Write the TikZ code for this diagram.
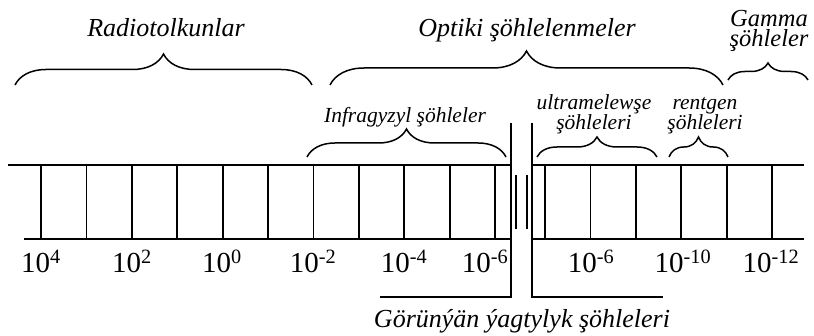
\documentclass[tikz,border=0pt]{standalone}
\usepackage{fontspec}
\setmainfont{Liberation Serif}
\usetikzlibrary{decorations.pathreplacing}

\begin{document}
\begin{tikzpicture}[
        x=1pt, y=-1pt,
        scaleline/.style={line width=1.8pt},
        bracket/.style={decorate, decoration={brace, amplitude=#1}, line width=1.5pt},
        bigtitle/.style={anchor=base, inner sep=0pt, align=center,
                         font=\fontsize{26}{18}\selectfont\itshape},
        smalltitle/.style={anchor=base, inner sep=0pt, align=center,
                           font=\fontsize{21.5}{18}\selectfont\itshape},
        power/.style={anchor=base, inner sep=0pt, font=\fontsize{29}{30}\selectfont},
    ]
        \useasboundingbox (0,0) rectangle (814,336);

        \draw[scaleline] (8,165) -- (511,165);
        \draw[scaleline] (24,239) -- (511,239);
        \draw[scaleline] (511,123) -- (511,297) -- (380,297);
        \draw[scaleline] (532,123) -- (532,297) -- (663,297);
        \draw[scaleline] (532,165) -- (804,165);
        \draw[scaleline] (532,239) -- (804,239);
        \foreach \k in {0,...,10}
            \draw[scaleline] (41+45.4*\k,165) -- (41+45.4*\k,239);
        \foreach \k in {0,...,5}
            \draw[scaleline] (545+45.4*\k,165) -- (545+45.4*\k,239);
        \draw[scaleline] (516,175) -- (516,229);
        \draw[scaleline] (527,175) -- (527,229);

        \node[power] (p4) at (41,273) {10\textsuperscript{4}};
        \node[power] (p2) at (132,273) {10\textsuperscript{2}};
        \node[power] (p0) at (222,273) {10\textsuperscript{0}};
        \node[power] (m2) at (313,273) {10\textsuperscript{-2}};
        \node[power] (m4) at (404,273) {10\textsuperscript{-4}};
        \node[power] (m6) at (485,273) {10\textsuperscript{-6}};
        \node[power] (u6) at (591,273) {10\textsuperscript{-6}};
        \node[power] (x10) at (683,273) {10\textsuperscript{-10}};
        \node[power] (g12) at (771,273) {10\textsuperscript{-12}};

        \draw[bracket=31pt] (15,85) -- (312,85);
        \draw[bracket=34pt] (330,85) -- (723,85);
        \draw[bracket=17pt] (728,80) -- (808,80);
        \draw[bracket=28pt] (307,157) -- (506,157);
        \draw[bracket=20pt] (537,157) -- (657,157);
        \draw[bracket=20pt] (669,157) -- (728,157);

        \node[bigtitle] (radio) at (166,37) {Radiotolkunlar};
        \node[bigtitle] (optic) at (527,37) {Optiki şöhlelenmeler};
        \node[bigtitle, font=\fontsize{24.5}{20}\selectfont\itshape] (gamma) at (769,47) {Gamma\\şöhleler};
        \node[smalltitle] (infra) at (405,123) {Infragyzyl şöhleler};
        \node[smalltitle] (ultra) at (594,130) {ultramelewşe\\şöhleleri};
        \node[smalltitle] (xray) at (705,130) {rentgen\\şöhleleri};
        \node[bigtitle] (light) at (522,328) {Görünýän ýagtylyk şöhleleri};

    \end{tikzpicture}
\end{document}
